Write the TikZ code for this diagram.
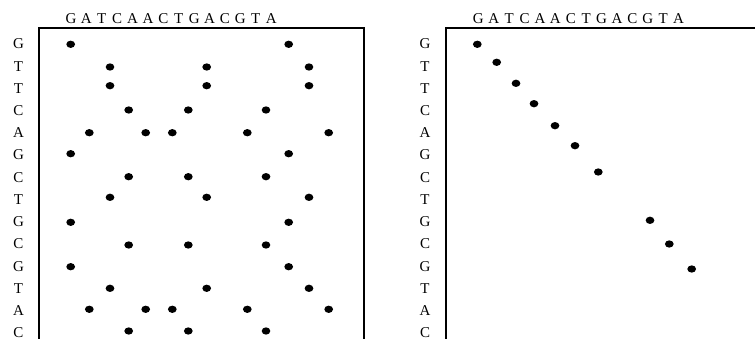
\documentclass[tikz,border=0pt]{standalone}
\usepackage{fontspec}
\setmainfont{Liberation Serif}
\usetikzlibrary{shapes.geometric}
\begin{document}
\begin{tikzpicture}[x=1pt,y=-1pt,
  dot/.style={ellipse,fill=black,inner sep=0pt,minimum width=8.7pt,minimum height=7.3pt},
  lab/.style={font=\fontsize{15}{15}\selectfont,inner sep=0pt,anchor=base},
  frame/.style={line width=2pt,line join=miter}]
\useasboundingbox (0,0) rectangle (755,339);
% frames
\coordinate (LBL) at (39,339);
\coordinate (LTL) at (39,28);
\coordinate (LTR) at (363.5,28);
\coordinate (LBR) at (363.5,339);
\coordinate (RBL) at (445.5,339);
\coordinate (RTL) at (445.5,28);
\coordinate (RTR) at (756,28);
\draw[frame] (LBL) -- (LTL) -- (LTR) -- (LBR);
\draw[frame] (RBL) -- (RTL) -- (RTR);
% column letters
\foreach \c [count=\i from 0] in {G,A,T,C,A,A,C,T,G,A,C,G,T,A} {
  \node[lab] (lt\i) at ({71+15.4*\i},23.3) {\c};
  \node[lab] (rt\i) at ({478.4+15.4*\i},23.3) {\c};
}
% row letters
\foreach \c [count=\i from 0] in {G,T,T,C,A,G,C,T,G,C,G,T,A,C} {
  \node[lab] (lr\i) at (18.5,{44+22.2*\i+5}) {\c};
  \node[lab] (rr\i) at (425,{44+22.2*\i+5}) {\c};
}
% left dots
\foreach \p [count=\k] in {
  {70.7,44.3},{288.7,44.3},
  {110,67},{206.7,67},{309,67},
  {110,85.7},{206.7,85.7},{309,85.7},
  {128.7,110},{188.3,110},{266,110},
  {89.3,132.7},{145.7,132.7},{172.3,132.7},{247.3,132.7},{328.7,132.7},
  {70.7,153.7},{288.7,153.7},
  {128.7,176.7},{188.3,176.7},{266,176.7},
  {110,197.3},{206.7,197.3},{309,197.3},
  {70.7,222.3},{288.7,222.3},
  {128.7,245},{188.3,245},{266,245},
  {70.7,266.7},{288.7,266.7},
  {110,288.3},{206.7,288.3},{309,288.3},
  {89.3,309.3},{145.7,309.3},{172.3,309.3},{247.3,309.3},{328.7,309.3},
  {128.7,331},{188.3,331},{266,331}} {
  \node[dot] (ld\k) at (\p) {};
}
% right dots
\foreach \p [count=\k] in {
  {477.3,44.3},{496.7,62.3},{516,83.3},{534,103.7},{555,125.7},
  {575,145.7},{598.3,172},{650,220.3},{669.3,244},{691.7,269}} {
  \node[dot] (rd\k) at (\p) {};
}
\end{tikzpicture}
\end{document}
